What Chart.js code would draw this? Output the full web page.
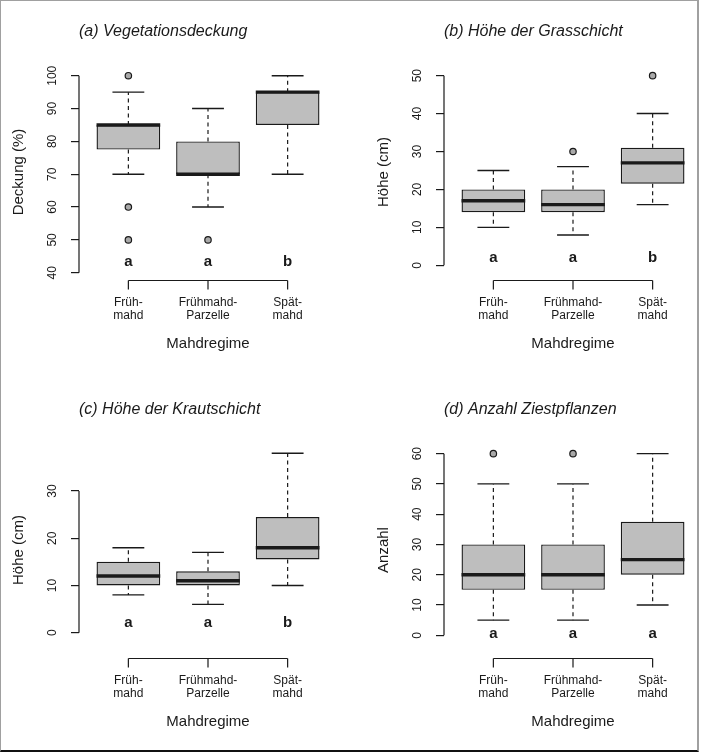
<!DOCTYPE html>
<html>
<head>
<meta charset="utf-8">
<script src="https://cdn.jsdelivr.net/npm/chart.js@4.4.1/dist/chart.umd.min.js"></script>
<style>
  html, body { margin: 0; padding: 0; background: #fff; }
  #page { position: relative; width: 704px; height: 752px; overflow: hidden; background: #fff; }
  #page canvas { position: absolute; }
  #frame {
    position: absolute; left: 0; top: 0; width: 699px; height: 752px; box-sizing: border-box;
    border-left: 1px solid #a0a0a0; border-top: 1px solid #a0a0a0;
    border-right: 2px solid #a0a0a0; border-bottom: 2px solid #111;
    pointer-events: none;
  }
</style>
</head>
<body>
<div id="page">
  <canvas id="chartA" width="352" height="376" style="left:0px;top:0px"></canvas>
  <canvas id="chartB" width="352" height="376" style="left:365px;top:0px"></canvas>
  <canvas id="chartC" width="352" height="376" style="left:0px;top:378px"></canvas>
  <canvas id="chartD" width="352" height="376" style="left:365px;top:378px"></canvas>
  <div id="frame"></div>
</div>
<script>
const FONT = '"Liberation Sans", Arial, Helvetica, sans-serif';
const INK = '#1a1a1a';

/* ==========================
   DATA
========================== */
const groupLabels = [['Früh-', 'mahd'], ['Frühmahd-', 'Parzelle'], ['Spät-', 'mahd']];
const groupPos = [1, 2, 3];

// (a) Vegetationsdeckung
const deckLow = [70, 60, 70];
const deckQ1 = [77.5, 70, 85];
const deckMed = [85, 70, 95];
const deckQ3 = [85, 80, 95];
const deckHigh = [95, 90, 100];
const deckOut = [[100, 60, 50], [50], []];
const deckLetters = ['a', 'a', 'b'];
const deckTicks = [40, 50, 60, 70, 80, 90, 100];

// (b) Höhe der Grasschicht
const grasLow = [10, 8, 16];
const grasQ1 = [14, 14, 21.5];
const grasMed = [17, 16, 27];
const grasQ3 = [20, 20, 31];
const grasHigh = [25, 26, 40];
const grasOut = [[], [30], [50]];
const grasLetters = ['a', 'a', 'b'];
const grasTicks = [0, 10, 20, 30, 40, 50];

// (c) Höhe der Krautschicht
const krautLow = [8, 6, 10];
const krautQ1 = [10, 10, 15.5];
const krautMed = [12, 11, 18];
const krautQ3 = [15, 13, 24.5];
const krautHigh = [18, 17, 38];
const krautOut = [[], [], []];
const krautLetters = ['a', 'a', 'b'];
const krautTicks = [0, 10, 20, 30];

// (d) Anzahl Ziestpflanzen
const ziestLow = [5, 5, 10];
const ziestQ1 = [15, 15, 20];
const ziestMed = [20, 20, 25];
const ziestQ3 = [30, 30, 37.5];
const ziestHigh = [50, 50, 60];
const ziestOut = [[60], [60], []];
const ziestLetters = ['a', 'a', 'a'];
const ziestTicks = [0, 10, 20, 30, 40, 50, 60];

const panels = [
  { id: 'chartA', title: '(a) Vegetationsdeckung', yTitle: 'Deckung (%)',
    low: deckLow, q1: deckQ1, med: deckMed, q3: deckQ3, high: deckHigh, out: deckOut,
    letters: deckLetters, ticks: deckTicks, yMin: 38.4, yMax: 102.96, letterY: 43.2 },
  { id: 'chartB', title: '(b) Höhe der Grasschicht', yTitle: 'Höhe (cm)',
    low: grasLow, q1: grasQ1, med: grasMed, q3: grasQ3, high: grasHigh, out: grasOut,
    letters: grasLetters, ticks: grasTicks, yMin: -3.35, yMax: 52.54, letterY: 1.9 },
  { id: 'chartC', title: '(c) Höhe der Krautschicht', yTitle: 'Höhe (cm)',
    low: krautLow, q1: krautQ1, med: krautMed, q3: krautQ3, high: krautHigh, out: krautOut,
    letters: krautLetters, ticks: krautTicks, yMin: -4.93, yMax: 39.95, letterY: 2.1 },
  { id: 'chartD', title: '(d) Anzahl Ziestpflanzen', yTitle: 'Anzahl',
    low: ziestLow, q1: ziestQ1, med: ziestMed, q3: ziestQ3, high: ziestHigh, out: ziestOut,
    letters: ziestLetters, ticks: ziestTicks, yMin: -6.84, yMax: 63.18, letterY: 0.5 }
];

/* ==========================
   R-STYLE EXTRAS (whiskers, medians, axes)
========================== */
function makeExtras(p) {
  return {
    id: 'boxExtras',
    afterDatasetsDraw(chart) {
      const ctx = chart.ctx;
      const xs = chart.scales.x;
      const ys = chart.scales.y;
      const area = chart.chartArea;
      const boxes = chart.getDatasetMeta(0).data;

      ctx.save();
      ctx.strokeStyle = INK;
      ctx.fillStyle = INK;

      boxes.forEach((bar, i) => {
        const cx = bar.x;
        const half = bar.width / 2;

        // dashed whiskers
        ctx.lineWidth = 1.2;
        ctx.setLineDash([4, 3.5]);
        ctx.beginPath();
        ctx.moveTo(cx, ys.getPixelForValue(p.q3[i]));
        ctx.lineTo(cx, ys.getPixelForValue(p.high[i]));
        ctx.moveTo(cx, ys.getPixelForValue(p.q1[i]));
        ctx.lineTo(cx, ys.getPixelForValue(p.low[i]));
        ctx.stroke();
        ctx.setLineDash([]);

        // caps
        ctx.lineWidth = 1.4;
        ctx.beginPath();
        [p.high[i], p.low[i]].forEach(v => {
          const py = ys.getPixelForValue(v);
          ctx.moveTo(cx - half / 2, py);
          ctx.lineTo(cx + half / 2, py);
        });
        ctx.stroke();

        // median
        ctx.lineWidth = 3.4;
        ctx.beginPath();
        const my = ys.getPixelForValue(p.med[i]);
        ctx.moveTo(cx - half, my);
        ctx.lineTo(cx + half, my);
        ctx.stroke();

        // significance letter
        ctx.font = 'bold 15px ' + FONT;
        ctx.textAlign = 'center';
        ctx.textBaseline = 'middle';
        ctx.fillText(p.letters[i], cx, ys.getPixelForValue(p.letterY));
      });

      // y axis line, first to last tick only
      const t0 = ys.getPixelForValue(p.ticks[0]);
      const t1 = ys.getPixelForValue(p.ticks[p.ticks.length - 1]);
      ctx.lineWidth = 1.2;
      ctx.beginPath();
      ctx.moveTo(area.left, t0);
      ctx.lineTo(area.left, t1);
      ctx.stroke();

      // y tick labels, parallel to the axis
      ctx.font = '12px ' + FONT;
      ctx.textAlign = 'center';
      ctx.textBaseline = 'middle';
      ys.ticks.forEach(t => {
        ctx.save();
        ctx.translate(area.left - 26, ys.getPixelForValue(t.value));
        ctx.rotate(-Math.PI / 2);
        ctx.fillText(String(t.value), 0, 0);
        ctx.restore();
      });

      // x axis bracket
      const by = area.bottom + 2.5;
      const bx0 = xs.getPixelForValue(groupPos[0]);
      const bx1 = xs.getPixelForValue(groupPos[groupPos.length - 1]);
      ctx.lineWidth = 1.2;
      ctx.beginPath();
      ctx.moveTo(bx0, by);
      ctx.lineTo(bx1, by);
      groupPos.forEach(g => {
        const gx = xs.getPixelForValue(g);
        ctx.moveTo(gx, by);
        ctx.lineTo(gx, by + 9);
      });
      ctx.stroke();

      ctx.restore();
    }
  };
}

/* ==========================
   BUILD CHARTS
========================== */
function buildChart(p) {
  const boxData = groupPos.map((g, i) => ({ x: g, y: [p.q1[i], p.q3[i]] }));
  const outData = [];
  p.out.forEach((arr, i) => arr.forEach(v => outData.push({ x: groupPos[i], y: v })));

  const ctx = document.getElementById(p.id).getContext('2d');
  new Chart(ctx, {
    data: {
      datasets: [{
        type: 'bar',
        data: boxData,
        backgroundColor: '#bebebe',
        borderColor: INK,
        borderWidth: 1.4,
        borderSkipped: false,
        barPercentage: 1,
        categoryPercentage: 0.8
      }, {
        type: 'scatter',
        data: outData,
        pointRadius: 3.2,
        pointBackgroundColor: '#a9a9a9',
        pointBorderColor: INK,
        pointBorderWidth: 1.2
      }]
    },
    options: {
      responsive: false,
      animation: false,
      events: [],
      layout: { padding: { left: 0, right: 15, top: 0, bottom: 0 } },
      plugins: {
        legend: { display: false },
        tooltip: { enabled: false },
        title: {
          display: true,
          text: p.title,
          align: 'start',
          fullSize: false,
          color: INK,
          font: { family: FONT, size: 16, style: 'italic', weight: 'normal', lineHeight: 1.2 },
          padding: { top: 22, bottom: 24.8 }
        }
      },
      scales: {
        x: {
          type: 'linear',
          min: 0.38,
          max: 3.62,
          offset: false,
          bounds: 'data',
          afterBuildTicks: s => { s.ticks = groupPos.map(v => ({ value: v })); },
          afterFit: s => { s.height = 98; },
          grid: { display: false, drawTicks: false, offset: false },
          border: { display: false },
          ticks: {
            color: INK,
            autoSkip: false,
            maxRotation: 0,
            padding: 18.3,
            font: { family: FONT, size: 12, lineHeight: 1.07 },
            callback: v => groupLabels[groupPos.indexOf(v)]
          },
          title: {
            display: true,
            text: 'Mahdregime',
            color: INK,
            font: { family: FONT, size: 15 },
            padding: { top: 0, bottom: 23.5 }
          }
        },
        y: {
          type: 'linear',
          min: p.yMin,
          max: p.yMax,
          bounds: 'data',
          afterBuildTicks: s => { s.ticks = p.ticks.map(v => ({ value: v })); },
          afterFit: s => { s.width = 79; },
          grid: { drawOnChartArea: false, drawTicks: true, tickLength: 8, color: INK, lineWidth: 1.2 },
          border: { display: false },
          ticks: { display: false },
          title: {
            display: true,
            text: p.yTitle,
            color: INK,
            font: { family: FONT, size: 15 },
            padding: { top: 10, bottom: 0 }
          }
        }
      }
    },
    plugins: [makeExtras(p)]
  });
}

panels.forEach(buildChart);
</script>
</body>
</html>
